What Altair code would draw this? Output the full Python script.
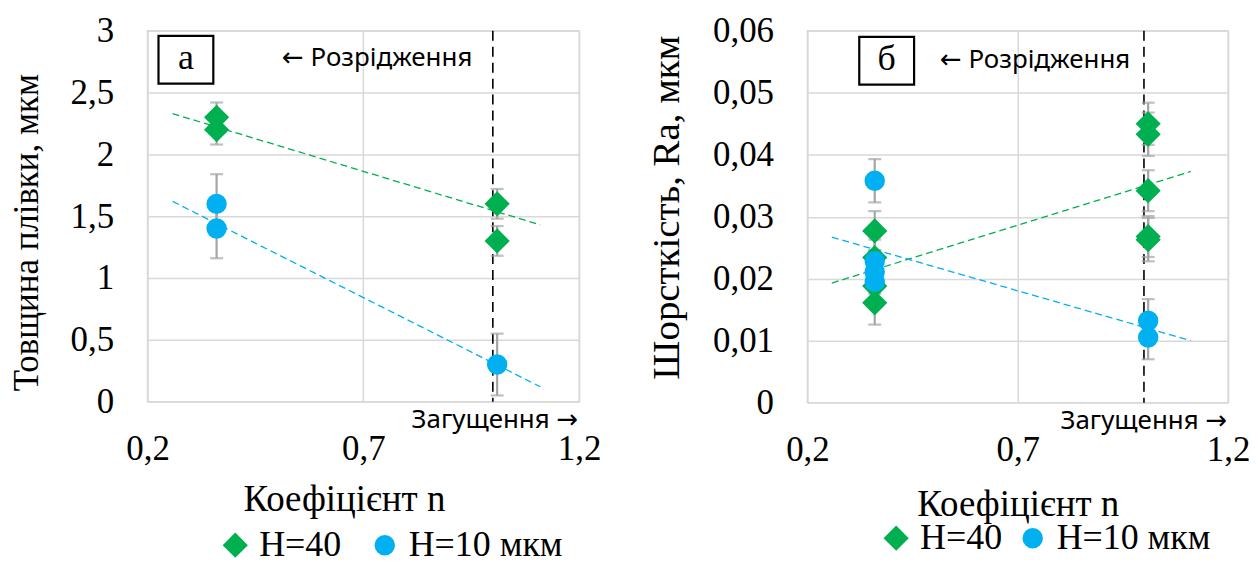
import altair as alt
import pandas as pd

# ---------------- data ----------------
# panel a: film thickness
a_x40 = [0.36, 0.36, 1.01, 1.01]
a_y40 = [2.3, 2.2, 1.6, 1.3]
a_e40 = [0.12, 0.12, 0.12, 0.12]
a_x10 = [0.36, 0.36, 1.01]
a_y10 = [1.6, 1.4, 0.3]
a_e10 = [0.24, 0.24, 0.25]
a_trend40_x = [0.258, 1.11]
a_trend40_y = [2.33, 1.43]
a_trend10_x = [0.258, 1.11]
a_trend10_y = [1.62, 0.12]

# panel b: roughness
b_x40 = [0.36, 0.36, 0.36, 0.36, 1.01, 1.01, 1.01, 1.01, 1.01]
b_y40 = [0.0277, 0.0234, 0.0188, 0.0161, 0.0450, 0.0433, 0.0342, 0.0268, 0.0263]
b_e40 = [0.0032, 0.0034, 0.0034, 0.0035, 0.0034, 0.0035, 0.0033, 0.0033, 0.0035]
b_x10 = [0.36, 0.36, 0.36, 0.36, 1.01, 1.01]
b_y10 = [0.0358, 0.0228, 0.0211, 0.0195, 0.0132, 0.0105]
b_e10 = [0.0035, 0.0035, 0.0035, 0.0035, 0.0035, 0.0035]
b_trend40_x = [0.258, 1.111]
b_trend40_y = [0.0193, 0.0373]
b_trend10_x = [0.258, 1.111]
b_trend10_y = [0.0267, 0.0100]

boundary_n = [1.0]
series_names = ["H=40", "H=10 мкм"]
x_ticks = [0.2, 0.7, 1.2]
a_y_ticks = [0, 0.5, 1, 1.5, 2, 2.5, 3]
b_y_ticks = [0, 0.01, 0.02, 0.03, 0.04, 0.05, 0.06]

GREEN = "#00b050"
BLUE = "#00b0f0"
GREY = "#a5a5a5"
SERIF = "Liberation Serif"
SANS = "Noto Sans, DejaVu Sans"
COMMA = "replace(toString(datum.value), '.', ',')"


def panel(x40, y40, e40, x10, y10, e10, t40x, t40y, t10x, t10y,
          ymax, yticks, ytitle, ytsize, ytitle_y, xtitle_x, xtpad,
          letter, W, H, lx, ly, legend_gap):
    pts = pd.DataFrame({
        "n": x40 + x10,
        "v": y40 + y10,
        "lo": [v - e for v, e in zip(y40, e40)] + [v - e for v, e in zip(y10, e10)],
        "hi": [v + e for v, e in zip(y40, e40)] + [v + e for v, e in zip(y10, e10)],
        "s": [series_names[0]] * len(x40) + [series_names[1]] * len(x10),
    })
    xs = alt.Scale(domain=[0.2, 1.2], nice=False, zero=False)
    ys = alt.Scale(domain=[0, ymax], nice=False, zero=True)
    xaxis = alt.Axis(values=x_ticks, labelExpr=COMMA, grid=True, gridColor="#d9d9d9",
                     gridWidth=1.5, domain=False, ticks=False, labelPadding=30,
                     labelFlush=False, labelOverlap=False,
                     labelFont=SERIF, labelFontSize=35, labelColor="black",
                     title="Коефіцієнт n", titleFont=SERIF, titleFontSize=37,
                     titleFontWeight="normal", titleColor="black", titlePadding=xtpad,
                     titleX=xtitle_x)
    yaxis = alt.Axis(values=yticks, labelExpr=COMMA, grid=True, gridColor="#d9d9d9",
                     gridWidth=1.5, domain=False, ticks=False, labelPadding=34,
                     labelFlush=False, labelOverlap=False,
                     labelFont=SERIF, labelFontSize=35, labelColor="black",
                     title=ytitle, titleFont=SERIF, titleFontSize=ytsize,
                     titleFontWeight="normal", titleColor="black", titlePadding=26,
                     titleY=ytitle_y)

    base = alt.Chart(pts)
    vline = alt.Chart(pd.DataFrame({"n": boundary_n})).mark_rule(
        color="black", strokeWidth=1.6, strokeDash=[10, 6]
    ).encode(x=alt.X("n:Q", scale=xs, axis=xaxis))

    def trend(tx, ty, col):
        return alt.Chart(pd.DataFrame({"n": tx, "v": ty})).mark_line(
            color=col, strokeWidth=1.3, strokeDash=[7, 4]
        ).encode(x=alt.X("n:Q", scale=xs), y=alt.Y("v:Q", scale=ys, axis=yaxis))

    err = base.mark_rule(color=GREY, strokeWidth=2.2).encode(
        x=alt.X("n:Q", scale=xs), y=alt.Y("lo:Q", scale=ys), y2="hi:Q")
    cap_lo = base.mark_tick(color=GREY, orient="horizontal", size=13, thickness=2.2).encode(
        x=alt.X("n:Q", scale=xs), y=alt.Y("lo:Q", scale=ys))
    cap_hi = base.mark_tick(color=GREY, orient="horizontal", size=13, thickness=2.2).encode(
        x=alt.X("n:Q", scale=xs), y=alt.Y("hi:Q", scale=ys))

    leg = alt.Legend(title=None, orient="none", legendX=lx, legendY=ly,
                     direction="horizontal", columns=2,
                     symbolSize=340, labelFont=SERIF, labelFontSize=36,
                     labelColor="black", columnPadding=legend_gap,
                     labelOffset=6, padding=0, symbolStrokeWidth=0, labelLimit=400)
    points = base.mark_point(filled=True, opacity=1, strokeWidth=0).encode(
        x=alt.X("n:Q", scale=xs),
        y=alt.Y("v:Q", scale=ys),
        color=alt.Color("s:N", scale=alt.Scale(domain=series_names, range=[GREEN, BLUE]),
                        legend=leg),
        shape=alt.Shape("s:N", scale=alt.Scale(domain=series_names, range=["diamond", "circle"]),
                        legend=leg),
        size=alt.Size("s:N", scale=alt.Scale(domain=series_names, range=[640, 420]), legend=None),
    )

    one = pd.DataFrame({"k": [0]})
    box = alt.Chart(one).mark_rect(
        fill="white", stroke="black", strokeWidth=2.2
    ).encode(x=alt.value(letter[1]), x2=alt.value(letter[1] + 55),
             y=alt.value(letter[2]), y2=alt.value(letter[2] + 48))
    box_txt = alt.Chart(one).mark_text(
        font=SERIF, fontSize=36, color="black", align="center", baseline="middle"
    ).encode(x=alt.value(letter[1] + 27.5), y=alt.value(letter[2] + 22), text=alt.value(letter[0]))
    rarefy = alt.Chart(one).mark_text(
        font=SANS, fontSize=26, color="black", align="left", baseline="middle"
    ).encode(x=alt.value(letter[3]), y=alt.value(letter[4]), text=alt.value("← Розрідження"))
    thicken = alt.Chart(one).mark_text(
        font=SANS, fontSize=26, color="black", align="right", baseline="middle"
    ).encode(x=alt.value(W - 1), y=alt.value(H + 18), text=alt.value("Загущення →"))

    return alt.layer(
        vline, trend(t40x, t40y, GREEN), trend(t10x, t10y, BLUE),
        err, cap_lo, cap_hi, points, box, box_txt, rarefy, thicken
    ).properties(width=W, height=H)


left = panel(a_x40, a_y40, a_e40, a_x10, a_y10, a_e10,
             a_trend40_x, a_trend40_y, a_trend10_x, a_trend10_y,
             3, a_y_ticks, "Товщина плівки, мкм", 35, 202, 197, 15,
             ("а", 11, 5, 135, 27), 433, 372, 70, 498, 25)
right = panel(b_x40, b_y40, b_e40, b_x10, b_y10, b_e10,
              b_trend40_x, b_trend40_y, b_trend10_x, b_trend10_y,
              0.06, b_y_ticks, "Шорсткість, Ra, мкм", 39, 177, 211, 19,
              ("б", 52, 6, 133, 29), 422, 373, 71, 491, 12)

chart = alt.hconcat(left, right, spacing=45).resolve_scale(
    color="independent", shape="independent", size="independent"
).resolve_legend(color="independent", shape="independent").properties(
    padding={"left": 8, "top": 12, "right": 5, "bottom": 5}, background="white"
).configure(font=SERIF).configure_view(
    stroke="#d9d9d9", strokeWidth=1.5
).configure_legend(
    labelFont=SERIF, labelFontSize=36, labelColor="black"
)

chart.save("out.html", embed_options={"renderer": "svg", "actions": False})
